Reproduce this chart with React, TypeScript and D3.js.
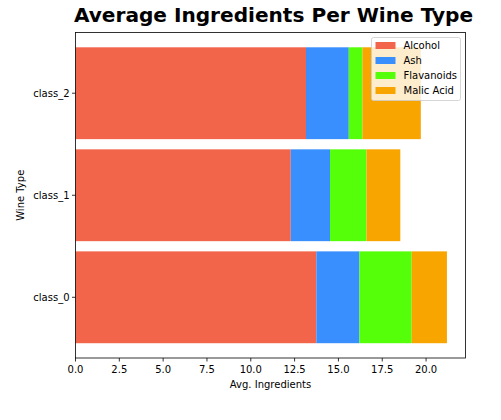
import React from "react";
import * as d3 from "d3";

const categories = ["class_0", "class_1", "class_2"];
const seriesNames = ["Alcohol", "Ash", "Flavanoids", "Malic Acid"];
const alcohol = [13.74, 12.28, 13.15];
const ash = [2.46, 2.24, 2.44];
const flavanoids = [2.98, 2.08, 0.78];
const malicAcid = [2.01, 1.93, 3.33];
const colors = ["#F3654A", "#3A8FFF", "#55FF0A", "#F8A500"];
const xTicks = [0, 2.5, 5, 7.5, 10, 12.5, 15, 17.5, 20];

const W = 501, H = 420;
const left = 75.5, right = 465.5, top = 32.5, bottom = 358;
const font = "DejaVu Sans, sans-serif";

export default function App() {
  const series = [alcohol, ash, flavanoids, malicAcid];
  const rows = categories.map((c, i) => {
    const r: any = { cat: c };
    seriesNames.forEach((s, j) => (r[s] = series[j][i]));
    return r;
  });
  const stack = d3.stack<any>().keys(seriesNames)(rows);
  const maxTotal = d3.max(rows, (r: any) => d3.sum(seriesNames, (s) => r[s])) as number;
  const x = d3.scaleLinear().domain([0, maxTotal * 1.05]).range([left, right]);
  const y = d3.scaleLinear().domain([-0.595, 2.595]).range([bottom, top]);
  const bh = y(0) - y(0.9);

  return (
    <svg width={W} height={H} style={{ position: "absolute", left: 0, top: 0, background: "#fff" }} fontFamily={font}>
      <rect x={0} y={0} width={W} height={H} fill="#fff" />
      {stack.map((layer, j) =>
        layer.map((d, i) => (
          <rect
            key={`${j}-${i}`}
            x={x(d[0])}
            width={x(d[1]) - x(d[0])}
            y={y(i) - bh / 2}
            height={bh}
            fill={colors[j]}
          />
        ))
      )}
      <rect x={left} y={top} width={right - left} height={bottom - top} fill="none" stroke="#000" strokeWidth={0.8} />
      {xTicks.map((t) => (
        <g key={t}>
          <line x1={x(t)} x2={x(t)} y1={bottom} y2={bottom + 3.5} stroke="#000" strokeWidth={0.8} />
          <text x={x(t)} y={bottom + 15} textAnchor="middle" fontSize={10} fill="#000">
            {t.toFixed(1)}
          </text>
        </g>
      ))}
      {categories.map((c, i) => (
        <g key={c}>
          <line x1={left - 3.5} x2={left} y1={y(i)} y2={y(i)} stroke="#000" strokeWidth={0.8} />
          <text x={left - 6} y={y(i) + 3.5} textAnchor="end" fontSize={10} fill="#000">
            {c}
          </text>
        </g>
      ))}
      <text x={(left + right) / 2} y={387.5} textAnchor="middle" fontSize={10} fill="#000">
        Avg. Ingredients
      </text>
      <text transform={`translate(24,${(top + bottom) / 2}) rotate(-90)`} textAnchor="middle" fontSize={10} fill="#000">
        Wine Type
      </text>
      <text x={(left + right) / 2 + 3} y={22} textAnchor="middle" fontSize={20.1} fontWeight="bold" fill="#000">
        Average Ingredients Per Wine Type
      </text>
      <g transform="translate(371.5,37.5)">
        <rect x={0} y={0} width={89} height={63} rx={2} fill="#fff" fillOpacity={0.8} stroke="#ccc" strokeWidth={0.8} />
        {seriesNames.map((s, j) => (
          <g key={s} transform={`translate(0,${j * 15})`}>
            <rect x={4} y={4.5} width={20} height={7} fill={colors[j]} />
            <text x={32} y={11.5} fontSize={10} fill="#000">
              {s}
            </text>
          </g>
        ))}
      </g>
    </svg>
  );
}
